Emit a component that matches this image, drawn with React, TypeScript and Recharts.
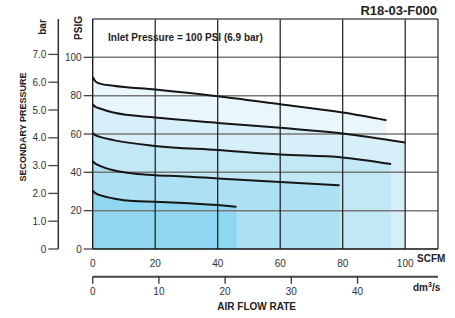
import React from "react";
import { ComposedChart, Area, Line, XAxis, YAxis, ReferenceLine } from "recharts";

// axis ticks
const scfmTicks = [0, 20, 40, 60, 80, 100];
const dm3Ticks = [0, 10, 20, 30, 40];
const psigTicks = [0, 20, 40, 60, 80, 100];
const barTicks = [0, 1, 2, 3, 4, 5, 6, 7];
const gridX = [20, 40, 60, 80, 100];
const gridY = [20, 40, 60, 80, 100];

// flow (SCFM) vs secondary pressure (PSIG), one pair per regulator setting
const curve1Flow = [0, 0.8, 2.3, 6.6, 20, 40, 60, 80, 94];
const curve1Psig = [89.7, 87.6, 86.3, 85.2, 83.2, 79.7, 75.5, 71.2, 67.2];
const curve2Flow = [0, 0.8, 2.3, 6.6, 20, 40, 60, 80, 100];
const curve2Psig = [75.4, 74.2, 73.3, 71.2, 68.6, 65.8, 63.2, 60.3, 55.6];
const curve3Flow = [0, 0.8, 2.3, 6.6, 20, 40, 60, 80, 95.5];
const curve3Psig = [60.3, 59.4, 58.5, 56.8, 53.8, 51.6, 49.3, 47.8, 44.3];
const curve4Flow = [0, 0.8, 2.3, 6.6, 13, 20, 28, 40, 60, 79];
const curve4Psig = [45.8, 44.6, 43.4, 41.1, 39.4, 38.5, 38, 36.8, 34.9, 33.2];
const curve5Flow = [0, 0.8, 2.3, 6.6, 13, 20, 40, 46];
const curve5Psig = [30.4, 29.2, 28.1, 26.4, 25, 24.7, 22.9, 22];

const bandFills = ["#e9f6fb", "#d6eff8", "#c3e8f5", "#ade0f2", "#8fd7f0"];

const SCFM_MAX = 110.5;
const PSI_MAX = 120;
const DM3_MAX = SCFM_MAX * 0.47195;
const BAR_MAX = PSI_MAX / 14.5038;

// axis ids: the lower id is drawn next to the plot
const SCFM = 0;
const DM3 = 1;
const PSIG = 0;
const BAR = 1;

const toPoints = (flow: number[], psig: number[]) =>
  flow.map((f, i) => ({ scfm: f, psig: psig[i] }));

const curves = [
  toPoints(curve1Flow, curve1Psig),
  toPoints(curve2Flow, curve2Psig),
  toPoints(curve3Flow, curve3Psig),
  toPoints(curve4Flow, curve4Psig),
  toPoints(curve5Flow, curve5Psig),
];

const font = '"Liberation Sans", Arial, Helvetica, sans-serif';
const tickStyle = { fontSize: 10, fill: "#333", fontFamily: font };

function Txt({ x, y, children, size = 10, rotate = false, align = "center" }: { x: number; y: number; children: React.ReactNode; size?: number; rotate?: boolean; align?: string }) {
  const tx = align === "left" ? "0" : align === "right" ? "-100%" : "-50%";
  return (
    <div
      style={{
        position: "absolute",
        left: x,
        top: y,
        transform: `translate(${tx}, -50%)${rotate ? " rotate(-90deg)" : ""}`,
        fontFamily: font,
        fontWeight: "bold",
        fontSize: size,
        lineHeight: 1,
        color: "#222",
        whiteSpace: "nowrap",
      }}
    >
      {children}
    </div>
  );
}

export default function App() {
  return (
    <div style={{ position: "absolute", left: 0, top: 0, width: 455, height: 318, background: "#fff" }}>
      <ComposedChart width={455} height={318} margin={{ top: 19, right: 17, bottom: 11.3, left: 0 }}>
        <XAxis
          xAxisId={SCFM}
          dataKey="scfm"
          type="number"
          domain={[0, SCFM_MAX]}
          ticks={scfmTicks}
          allowDataOverflow
          height={27.7}
          tickLine={false}
          tickSize={9}
          tick={tickStyle}
          axisLine={{ stroke: "#111", strokeWidth: 1.3 }}
        />
        <XAxis
          xAxisId={DM3}
          dataKey="dm3"
          type="number"
          domain={[0, DM3_MAX]}
          ticks={dm3Ticks}
          allowDataOverflow
          height={30}
          tickSize={7}
          tickMargin={4}
          tick={tickStyle}
          tickLine={{ stroke: "#333", strokeWidth: 1.3 }}
          axisLine={{ stroke: "#444", strokeWidth: 2 }}
        />
        <YAxis
          yAxisId={PSIG}
          type="number"
          domain={[0, PSI_MAX]}
          ticks={psigTicks}
          allowDataOverflow
          width={34.4}
          tickSize={9}
          tickMargin={2}
          tick={tickStyle}
          tickLine={{ stroke: "#444", strokeWidth: 1.3 }}
          axisLine={{ stroke: "#111", strokeWidth: 1.3 }}
        />
        <YAxis
          yAxisId={BAR}
          type="number"
          domain={[0, BAR_MAX]}
          ticks={barTicks}
          allowDataOverflow
          width={58.3}
          tickSize={10}
          tickMargin={2}
          tick={tickStyle}
          tickFormatter={(v: number) => (v === 0 ? "0" : v.toFixed(1))}
          tickLine={{ stroke: "#444", strokeWidth: 1.3 }}
          axisLine={{ stroke: "#333", strokeWidth: 1.5 }}
        />
        {curves.map((pts, i) => (
          <Area
            key={"a" + i}
            data={pts}
            dataKey="psig"
            xAxisId={SCFM}
            yAxisId={PSIG}
            type="monotone"
            fill={bandFills[i]}
            fillOpacity={1}
            stroke="none"
            isAnimationActive={false}
          />
        ))}
        {gridY.map((v) => (
          <ReferenceLine key={"gy" + v} y={v} xAxisId={SCFM} yAxisId={PSIG} stroke="#777" strokeWidth={1.5} />
        ))}
        {gridX.map((v) => (
          <ReferenceLine key={"gx" + v} x={v} xAxisId={SCFM} yAxisId={PSIG} stroke="#1a1a1a" strokeWidth={1.2} />
        ))}
        <ReferenceLine y={PSI_MAX} xAxisId={SCFM} yAxisId={PSIG} stroke="#555" strokeWidth={1.3} />
        <ReferenceLine x={SCFM_MAX} xAxisId={SCFM} yAxisId={PSIG} stroke="#333" strokeWidth={1.3} />
        {curves.map((pts, i) => (
          <Line
            key={"l" + i}
            data={pts}
            dataKey="psig"
            xAxisId={SCFM}
            yAxisId={PSIG}
            type="monotone"
            stroke="#161616"
            strokeWidth={2}
            dot={false}
            activeDot={false}
            isAnimationActive={false}
          />
        ))}
      </ComposedChart>
      <Txt x={437} y={10} size={13} align="right">R18-03-F000</Txt>
      <Txt x={108} y={37.5} align="left">Inlet Pressure = 100 PSI (6.9 bar)</Txt>
      <Txt x={79} y={28} rotate>PSIG</Txt>
      <Txt x={43} y={27} rotate>bar</Txt>
      <Txt x={23} y={127} size={9} rotate>SECONDARY PRESSURE</Txt>
      <Txt x={417} y={259} align="left">SCFM</Txt>
      <Txt x={413} y={287} align="left">
        dm<sup style={{ fontSize: 7, verticalAlign: "4px" }}>3</sup>/s
      </Txt>
      <Txt x={256.7} y={307}>AIR FLOW RATE</Txt>
    </div>
  );
}
